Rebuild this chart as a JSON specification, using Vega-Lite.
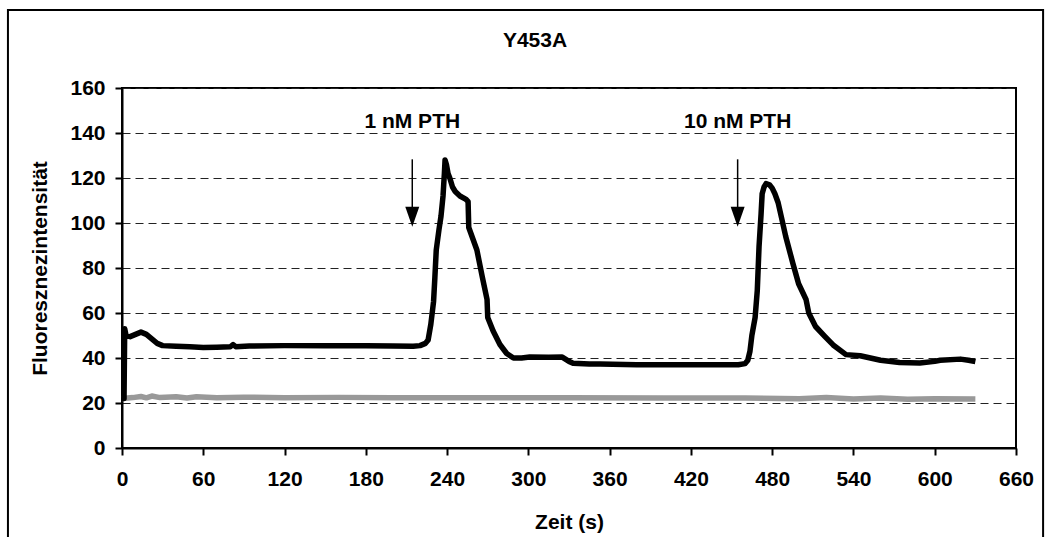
{
  "$schema": "https://vega.github.io/schema/vega-lite/v6.json",
  "width": 894,
  "height": 360,
  "autosize": {"type": "none"},
  "padding": {"left": 122, "top": 88, "right": 36, "bottom": 89},
  "background": "white",
  "title": {"text": "Y453A", "font": "Liberation Sans", "fontSize": 21, "fontWeight": "bold", "color": "black", "frame": "group", "anchor": "middle", "baseline": "alphabetic", "offset": -59, "dx": -34},
  "config": {
    "view": {"stroke": "black", "strokeWidth": 2},
    "axis": {
      "labelFont": "Liberation Sans", "labelFontSize": 21, "labelFontWeight": "bold", "labelColor": "black",
      "titleFont": "Liberation Sans", "titleFontSize": 21, "titleFontWeight": "bold", "titleColor": "black",
      "domainColor": "black", "domainWidth": 2, "tickColor": "black", "tickWidth": 2, "tickSize": 7,
      "gridColor": "#222", "gridDash": [8, 5], "gridWidth": 1, "labelFlush": false, "labelOverlap": false
    }
  },
  "datasets": {
    "trace": [
      {"s": "bg", "t": 0, "v": 22}, {"s": "bg", "t": 8, "v": 22.4}, {"s": "bg", "t": 14, "v": 22.9}, {"s": "bg", "t": 18, "v": 22.3}, {"s": "bg", "t": 22, "v": 23.1}, {"s": "bg", "t": 28, "v": 22.4}, {"s": "bg", "t": 40, "v": 22.8}, {"s": "bg", "t": 48, "v": 22.2}, {"s": "bg", "t": 55, "v": 22.8}, {"s": "bg", "t": 70, "v": 22.3}, {"s": "bg", "t": 90, "v": 22.6}, {"s": "bg", "t": 120, "v": 22.3}, {"s": "bg", "t": 160, "v": 22.5}, {"s": "bg", "t": 200, "v": 22.3}, {"s": "bg", "t": 260, "v": 22.3}, {"s": "bg", "t": 330, "v": 22.3}, {"s": "bg", "t": 400, "v": 22.2}, {"s": "bg", "t": 460, "v": 22.2}, {"s": "bg", "t": 500, "v": 21.9}, {"s": "bg", "t": 520, "v": 22.4}, {"s": "bg", "t": 540, "v": 21.8}, {"s": "bg", "t": 560, "v": 22.2}, {"s": "bg", "t": 580, "v": 21.7}, {"s": "bg", "t": 600, "v": 21.9}, {"s": "bg", "t": 630, "v": 21.8},
      {"s": "fl", "t": 0, "v": 22}, {"s": "fl", "t": 1.5, "v": 22}, {"s": "fl", "t": 2, "v": 53}, {"s": "fl", "t": 3, "v": 50}, {"s": "fl", "t": 6, "v": 49.5}, {"s": "fl", "t": 10, "v": 50.5}, {"s": "fl", "t": 14, "v": 51.5}, {"s": "fl", "t": 18, "v": 50.5}, {"s": "fl", "t": 22, "v": 48.5}, {"s": "fl", "t": 26, "v": 46.5}, {"s": "fl", "t": 30, "v": 45.5}, {"s": "fl", "t": 40, "v": 45.2}, {"s": "fl", "t": 50, "v": 45}, {"s": "fl", "t": 60, "v": 44.7}, {"s": "fl", "t": 70, "v": 44.8}, {"s": "fl", "t": 80, "v": 45}, {"s": "fl", "t": 82, "v": 46}, {"s": "fl", "t": 84, "v": 45}, {"s": "fl", "t": 94, "v": 45.3}, {"s": "fl", "t": 120, "v": 45.5}, {"s": "fl", "t": 150, "v": 45.5}, {"s": "fl", "t": 180, "v": 45.5}, {"s": "fl", "t": 200, "v": 45.3}, {"s": "fl", "t": 215, "v": 45.2}, {"s": "fl", "t": 220, "v": 45.5}, {"s": "fl", "t": 224, "v": 46.5}, {"s": "fl", "t": 226, "v": 48}, {"s": "fl", "t": 228, "v": 55}, {"s": "fl", "t": 230, "v": 65}, {"s": "fl", "t": 231, "v": 76}, {"s": "fl", "t": 232, "v": 88}, {"s": "fl", "t": 234, "v": 97}, {"s": "fl", "t": 235.5, "v": 103}, {"s": "fl", "t": 237, "v": 112}, {"s": "fl", "t": 238, "v": 122}, {"s": "fl", "t": 238.5, "v": 128}, {"s": "fl", "t": 239.5, "v": 126}, {"s": "fl", "t": 240.7, "v": 122}, {"s": "fl", "t": 242, "v": 120}, {"s": "fl", "t": 244, "v": 116}, {"s": "fl", "t": 246, "v": 114}, {"s": "fl", "t": 249.5, "v": 112}, {"s": "fl", "t": 254, "v": 110.5}, {"s": "fl", "t": 255.5, "v": 109.5}, {"s": "fl", "t": 256, "v": 98}, {"s": "fl", "t": 259, "v": 93}, {"s": "fl", "t": 262, "v": 88}, {"s": "fl", "t": 266, "v": 76}, {"s": "fl", "t": 269.5, "v": 66}, {"s": "fl", "t": 270, "v": 58}, {"s": "fl", "t": 274, "v": 52}, {"s": "fl", "t": 279, "v": 46}, {"s": "fl", "t": 284, "v": 42}, {"s": "fl", "t": 289, "v": 40}, {"s": "fl", "t": 295, "v": 40}, {"s": "fl", "t": 301, "v": 40.4}, {"s": "fl", "t": 315, "v": 40.3}, {"s": "fl", "t": 325, "v": 40.4}, {"s": "fl", "t": 330, "v": 38.5}, {"s": "fl", "t": 333, "v": 37.7}, {"s": "fl", "t": 345, "v": 37.3}, {"s": "fl", "t": 353, "v": 37.3}, {"s": "fl", "t": 380, "v": 37}, {"s": "fl", "t": 400, "v": 37}, {"s": "fl", "t": 420, "v": 37}, {"s": "fl", "t": 440, "v": 37}, {"s": "fl", "t": 455, "v": 37}, {"s": "fl", "t": 460, "v": 37.5}, {"s": "fl", "t": 462, "v": 39}, {"s": "fl", "t": 463.6, "v": 43}, {"s": "fl", "t": 465, "v": 50}, {"s": "fl", "t": 467.4, "v": 58}, {"s": "fl", "t": 469, "v": 70}, {"s": "fl", "t": 470.3, "v": 89.5}, {"s": "fl", "t": 471.8, "v": 104}, {"s": "fl", "t": 472.6, "v": 113}, {"s": "fl", "t": 474, "v": 116}, {"s": "fl", "t": 475.5, "v": 117.5}, {"s": "fl", "t": 478, "v": 117}, {"s": "fl", "t": 480, "v": 115.5}, {"s": "fl", "t": 482, "v": 113}, {"s": "fl", "t": 484.4, "v": 109}, {"s": "fl", "t": 487.4, "v": 101}, {"s": "fl", "t": 490, "v": 94}, {"s": "fl", "t": 495.3, "v": 82}, {"s": "fl", "t": 499.5, "v": 73}, {"s": "fl", "t": 505, "v": 66}, {"s": "fl", "t": 507, "v": 60}, {"s": "fl", "t": 512, "v": 54}, {"s": "fl", "t": 519, "v": 49.5}, {"s": "fl", "t": 525, "v": 45.8}, {"s": "fl", "t": 534.5, "v": 41.5}, {"s": "fl", "t": 545, "v": 41}, {"s": "fl", "t": 560, "v": 39}, {"s": "fl", "t": 574, "v": 38}, {"s": "fl", "t": 589, "v": 37.8}, {"s": "fl", "t": 600, "v": 38.5}, {"s": "fl", "t": 604, "v": 39}, {"s": "fl", "t": 619, "v": 39.5}, {"s": "fl", "t": 625, "v": 39}, {"s": "fl", "t": 630, "v": 38.4}
    ],
    "notes": [
      {"t": 214.3, "label": "1 nM PTH", "textY": 142.2, "arrowTop": 128.3, "arrowBase": 106, "head": 102.8},
      {"t": 454.5, "label": "10 nM PTH", "textY": 142.2, "arrowTop": 128.3, "arrowBase": 106, "head": 102.8}
    ]
  },
  "layer": [
    {
      "data": {"name": "trace"},
      "transform": [{"filter": "datum.s === 'bg'"}],
      "mark": {"type": "line", "color": "#999999", "strokeWidth": 5.5, "strokeJoin": "round"},
      "encoding": {
        "x": {"field": "t", "type": "quantitative", "scale": {"domain": [0, 660], "nice": false, "zero": false},
              "axis": {"title": "Zeit (s)", "values": [0, 60, 120, 180, 240, 300, 360, 420, 480, 540, 600, 660], "grid": false, "labelPadding": 13, "titlePadding": 22}},
        "y": {"field": "v", "type": "quantitative", "scale": {"domain": [0, 160], "nice": false},
              "axis": {"title": "Fluoresznezintensität", "values": [0, 20, 40, 60, 80, 100, 120, 140, 160], "grid": true, "labelPadding": 10, "titlePadding": 19}}
      }
    },
    {
      "data": {"name": "trace"},
      "transform": [{"filter": "datum.s === 'fl'"}],
      "mark": {"type": "line", "color": "black", "strokeWidth": 5.5, "strokeJoin": "round"},
      "encoding": {
        "x": {"field": "t", "type": "quantitative"},
        "y": {"field": "v", "type": "quantitative"}
      }
    },
    {
      "data": {"name": "notes"},
      "mark": {"type": "rule", "color": "black", "strokeWidth": 1.5},
      "encoding": {
        "x": {"field": "t", "type": "quantitative"},
        "y": {"field": "arrowTop", "type": "quantitative"},
        "y2": {"field": "arrowBase"}
      }
    },
    {
      "data": {"name": "notes"},
      "mark": {"type": "point", "shape": "M-0.7,-1L0.7,-1L0,1Z", "size": 400, "filled": true, "color": "black", "opacity": 1, "strokeWidth": 0},
      "encoding": {
        "x": {"field": "t", "type": "quantitative"},
        "y": {"field": "head", "type": "quantitative"}
      }
    },
    {
      "data": {"name": "notes"},
      "mark": {"type": "text", "font": "Liberation Sans", "fontSize": 21, "fontWeight": "bold", "color": "black", "align": "center", "baseline": "alphabetic"},
      "encoding": {
        "x": {"field": "t", "type": "quantitative"},
        "y": {"field": "textY", "type": "quantitative"},
        "text": {"field": "label"}
      }
    },
    {
      "data": {"values": [{"frame": "chart area"}]},
      "mark": {"type": "rect", "fillOpacity": 0, "stroke": "black", "strokeWidth": 2, "clip": false},
      "encoding": {
        "x": {"datum": -84.2, "type": "quantitative"},
        "x2": {"datum": 680},
        "y": {"datum": 194.7, "type": "quantitative"},
        "y2": {"datum": -45}
      }
    }
  ]
}
